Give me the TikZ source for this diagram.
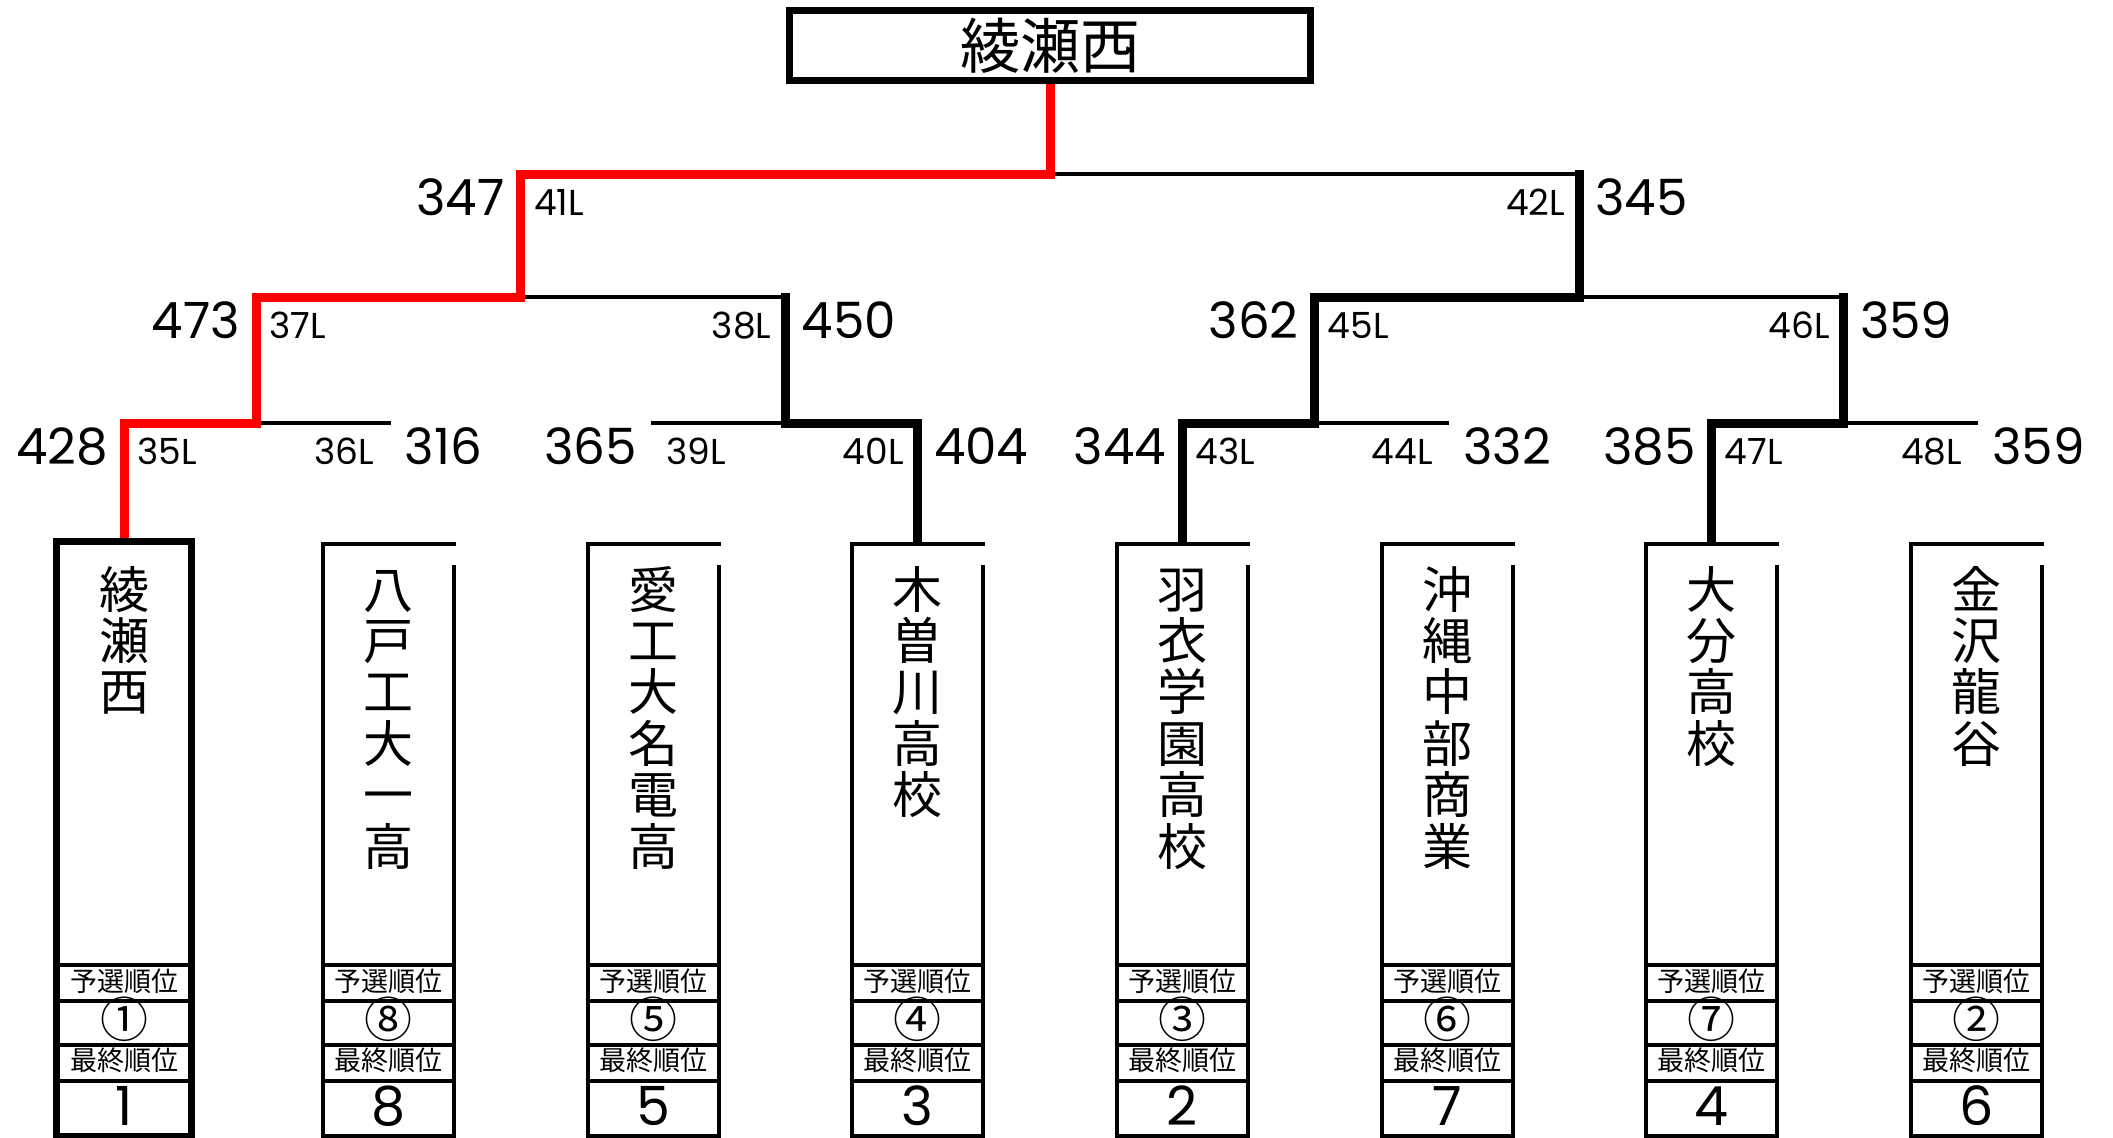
\documentclass[tikz,border=0pt]{standalone}
\usepackage{fontspec}
\setmainfont{Noto Sans CJK JP}
\newfontfamily\numfont{Poppins}
\begin{document}
\begin{tikzpicture}[x=1pt,y=-1pt,
  thinline/.style={line width=4pt, black, line cap=rect},
  winline/.style={line width=9pt, black, line cap=rect, line join=miter},
  redline/.style={line width=9pt, red, line cap=rect, line join=miter},
  boxline/.style={line width=4pt, black, line join=miter},
  winbox/.style={line width=7pt, black, line join=miter},
  txt/.style={inner sep=0pt, anchor=base},
  score/.style={inner sep=0pt, font=\numfont\fontsize{50}{60}\selectfont},
  llab/.style={inner sep=0pt, font=\numfont\fontsize{36}{40}\selectfont},
  namech/.style={txt, font=\fontsize{50}{55}\selectfont},
  rowtxt/.style={txt, font=\fontsize{27}{30}\selectfont},
  circ/.style={txt, font=\fontsize{48}{50}\selectfont},
  rank/.style={txt, font=\numfont\fontsize{54}{60}\selectfont},
]
\useasboundingbox (0,0) rectangle (2113,1138);
\fill[white] (0,0) rectangle (2113,1138);

% coordinates
\coordinate (b0) at (124,538);
\foreach \i/\x in {1/388.6,2/653.2,3/917.8,4/1182.4,5/1447,6/1711.6,7/1976.2}{\coordinate (b\i) at (\x,541);}
\foreach \i/\x in {0/124,1/388.6,2/653.2,3/917.8,4/1182.4,5/1447,6/1711.6,7/1976.2}{\coordinate (a\i) at (\x,423);}
\foreach \i/\x in {0/256.3,1/785.5,2/1314.7,3/1843.9}{\coordinate (q\i) at (\x,423); \coordinate (p\i) at (\x,297);}
\foreach \i/\x in {0/520.9,1/1579.3}{\coordinate (r\i) at (\x,297); \coordinate (u\i) at (\x,174);}
\coordinate (fin) at (1050,174);
\coordinate (tbot) at (1050,84);

% thin (losing) lines
\draw[thinline] (q0) -- (a1);
\draw[thinline] (a2) -- (q1);
\draw[thinline] (q2) -- (a5);
\draw[thinline] (q3) -- (a7);
\draw[thinline] (r0) -- (p1);
\draw[thinline] (r1) -- (p3);
\draw[thinline] (fin) -- (u1);

% winning paths
\draw[winline] (b3) -- (a3) -- (q1) -- (p1);
\draw[winline] (b4) -- (a4) -- (q2) -- (p2) -- (r1) -- (u1);
\draw[winline] (b6) -- (a6) -- (q3) -- (p3);
\draw[redline] (b0) -- (a0) -- (q0) -- (p0) -- (r0) -- (u0) -- (fin) -- (tbot);

% champion box
\node[draw, winbox, minimum width=521pt, minimum height=70pt, inner sep=0pt] (champbox) at (1050,45.5) {};
\node[txt, font=\fontsize{60}{60}\selectfont] (champ) at (1050,68) {綾瀬西};

% team boxes
\foreach \i/\nm/\prel/\finl in {0/{綾,瀬,西}/①/1, 1/{八,戸,工,大,一,高}/⑧/8, 2/{愛,工,大,名,電,高}/⑤/5, 3/{木,曽,川,高,校}/④/3, 4/{羽,衣,学,園,高,校}/③/2, 5/{沖,縄,中,部,商,業}/⑥/7, 6/{大,分,高,校}/⑦/4, 7/{金,沢,龍,谷}/②/6}{
  \pgfmathsetmacro\x{124+264.6*\i}
  \ifnum\i=0
    \foreach \yy in {965,1001,1045,1081}{\draw[boxline] (\x-67.5,\yy) -- (\x+67.5,\yy);}
    \draw[winbox] (\x-67.5,541.5) rectangle (\x+67.5,1136);
  \else
    \foreach \yy in {965,1001,1045,1081}{\draw[boxline] (\x-65.5,\yy) -- (\x+65.5,\yy);}
    \draw[boxline] (\x+65.5,565) -- (\x+65.5,1136) -- (\x-65.5,1136) -- (\x-65.5,543.5) -- (\x+67.5,543.5);
  \fi
  \foreach \ch [count=\k from 0] in \nm {\node[namech] (n\i-\k) at (\x,608+51.4*\k) {\ch};}
  \node[rowtxt] (pl\i) at (\x,991.5) {予選順位};
  \node[circ] (pr\i) at (\x,1037) {\prel};
  \node[rowtxt] (fl\i) at (\x,1070) {最終順位};
  \node[rank] (fr\i) at (\x,1125) {\finl};
}

% score labels
\foreach \L/\R/\Y/\sa/\la/\lb/\sb/\id in {
124/388.6/423/428/35L/36L/316/a,
653.2/917.8/423/365/39L/40L/404/b,
1182.4/1447/423/344/43L/44L/332/c,
1711.6/1976.2/423/385/47L/48L/359/d,
256.3/785.5/297/473/37L/38L/450/e,
1314.7/1843.9/297/362/45L/46L/359/f,
520.9/1579.3/174/347/41L/42L/345/g}{
  \node[score, anchor=base east] (sa\id) at (\L-16,\Y+41.5) {\sa};
  \node[llab, anchor=base west] (la\id) at (\L+13,\Y+41.5) {\la};
  \node[llab, anchor=base east] (lb\id) at (\R-14,\Y+41.5) {\lb};
  \node[score, anchor=base west] (sb\id) at (\R+16,\Y+41.5) {\sb};
}
\end{tikzpicture}
\end{document}
